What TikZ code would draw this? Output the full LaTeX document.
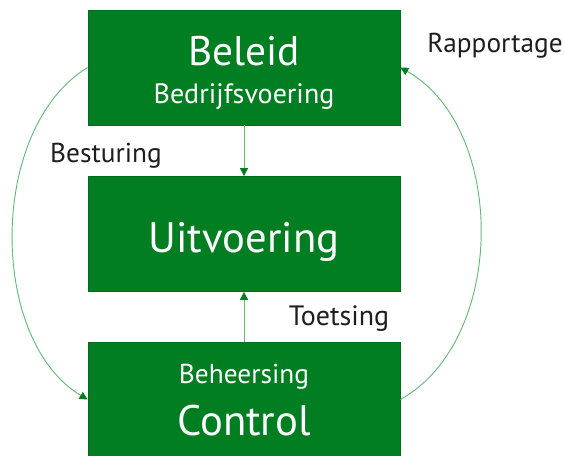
\documentclass[tikz,border=0pt]{standalone}
\usepackage{fontspec}
\setmainfont{PT Sans}
\usepackage{xcolor}
\usetikzlibrary{arrows.meta,calc}
\definecolor{boxgreen}{RGB}{0,126,33}
\definecolor{linegreen}{RGB}{100,185,120}
\definecolor{labelgray}{RGB}{30,30,30}
\tikzstyle{box}=[fill=boxgreen, draw=boxgreen!85!black, line width=.6pt, minimum width=234pt, minimum height=86.25pt, inner sep=0pt]
\tikzstyle{flow}=[draw=linegreen, line width=.7pt, -{Triangle[length=6pt,width=6pt,color=boxgreen]}]
\tikzstyle{boxlab}=[text=white, inner sep=0pt, anchor=base]
\tikzstyle{lab}=[text=labelgray, inner sep=0pt, anchor=base]
\newcommand{\boxtext}[3]{\fontsize{#1}{#2}\selectfont #3}

\begin{document}
\begin{tikzpicture}[x=.75pt,y=.75pt]
 \clip (0,0) rectangle (565,455);
%
 \node[box] (beleid) at (244,387.5) {};
 \node[box] (uitvoering) at (244,221) {};
 \node[box] (control) at (244,55.5) {};
%
 \node[boxlab] (beleidtxt) at (244,390) {\boxtext{31}{36}{Beleid}};
 \node[boxlab] (bedrijftxt) at (244,352) {\boxtext{21}{24}{Bedrijfsvoering}};
 \node[boxlab] (uitvtxt) at (244,203) {\boxtext{32}{36}{Uitvoering}};
 \node[boxlab] (beheertxt) at (244,72) {\boxtext{20.5}{24}{Beheersing}};
 \node[boxlab] (controltxt) at (244,20) {\boxtext{32}{38}{Control}};
%
 \draw[flow] (beleid.south) -- (uitvoering.north);
 \draw[flow] (control.north) -- (uitvoering.south);
 \draw[flow] (beleid.west) .. controls (-12,327) and (-12,115) .. (control.west);
 \draw[flow] (control.east) .. controls (507,115) and (507,327) .. (beleid.east);
%
 \node[lab] (rapportage) at (495,403) {\boxtext{20.5}{22}{Rapportage}};
 \node[lab] (besturing) at (106,293) {\boxtext{20.5}{22}{Besturing}};
 \node[lab] (toetsing) at (339,130) {\boxtext{21}{22}{Toetsing}};
\end{tikzpicture}
\end{document}
